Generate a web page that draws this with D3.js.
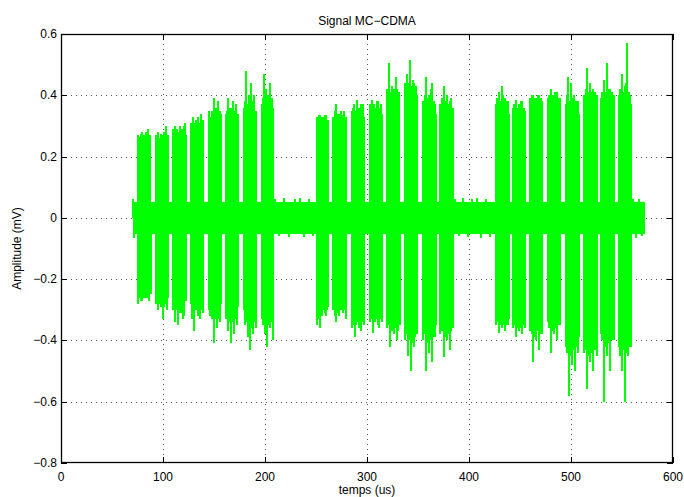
<!DOCTYPE html>
<html><head><meta charset="utf-8">
<script src="https://cdn.jsdelivr.net/npm/d3@7"></script>
<style>
body{margin:0;background:#fff;}
text{font-family:"Liberation Sans",Arial,Helvetica,sans-serif;}
</style></head>
<body><svg id="c" width="684" height="497"></svg>
<script>
// ---- data ----
const xTicks = [0,100,200,300,400,500,600];
const yTicks = [-0.8,-0.6,-0.4,-0.2,0,0.2,0.4,0.6];
// quiet baseline band of the signal (time span, upper/lower level)
const baseSpan = [70.6, 572.5];
const baseLevel = [0.053, -0.053];
// small peaks of the quiet parts [t, amplitude]
const basePeaks = [[71,0.06],[72,-0.065],[210,0.062],[214,-0.06],[219,0.065],[224,-0.063],[229,0.06],[234,0.066],[238,-0.064],[243,0.06],[247,-0.06],
  [386,0.062],[390,-0.06],[394,0.064],[399,-0.063],[403,0.06],[408,0.065],[412,-0.066],[417,0.06],[421,-0.062],
  [561,0.062],[564,-0.065],[567,0.06],[570,-0.06]];
// burst (symbol) time spans in us
const burstStart = [74.5,92.2,108.8,126.5,144.1,160.8,178.4,196.1,
                    250.0,266.7,284.3,302.0,319.6,336.3,353.9,371.6,
                    425.5,442.2,458.8,476.5,494.1,511.8,528.4,546.1];
const burstEnd   = [88.2,105.9,123.5,140.2,157.8,174.5,192.2,208.8,
                    262.7,280.4,298.0,315.7,332.4,350.0,368.6,384.3,
                    440.2,455.9,472.5,490.2,508.8,525.5,543.1,559.8];
// dense core level of each burst
const burstTop   = [0.25,0.25,0.27,0.29,0.31,0.31,0.31,0.31,
                    0.31,0.31,0.33,0.34,0.38,0.40,0.34,0.34,
                    0.34,0.33,0.37,0.37,0.34,0.38,0.37,0.37];
const burstBot   = [-0.24,-0.26,-0.27,-0.28,-0.28,-0.29,-0.30,-0.28,
                    -0.28,-0.29,-0.32,-0.31,-0.33,-0.35,-0.35,-0.33,
                    -0.33,-0.34,-0.34,-0.31,-0.39,-0.40,-0.34,-0.375];
// individual peaks sticking out of the bursts [t (us), amplitude (mV)]
const peaksUp = [
 [75,0.27],[76,0.265],[77.5,0.26],[78.5,0.275],[79.5,0.28],[81.5,0.27],[82.5,0.265],[83.5,0.28],[85.5,0.29],[86.5,0.27],[87.5,0.27],
 [93,0.27],[94,0.265],[95,0.28],[97,0.26],[98,0.275],[99,0.27],[101,0.28],[102,0.27],[103,0.3],[105,0.27],
 [110,0.29],[111,0.28],[112,0.3],[113.5,0.29],[115,0.28],[117,0.3],[118,0.29],[119,0.29],[120.5,0.3],[122,0.31],
 [127,0.31],[128,0.3],[129,0.33],[130.5,0.31],[132,0.32],[134,0.33],[135.5,0.31],[137,0.34],[139,0.32],
 [145,0.35],[146,0.33],[147,0.33],[148.5,0.35],[150,0.39],[152,0.36],[153,0.34],[154,0.38],[155.5,0.35],[157,0.34],
 [162,0.34],[163,0.35],[164,0.39],[165.5,0.36],[167,0.36],[169,0.38],[170.5,0.35],[172,0.37],[174,0.34],
 [179,0.36],[180,0.38],[181,0.48],[182.5,0.37],[184,0.4],[186,0.44],[187,0.37],[188,0.38],[189.5,0.4],[191,0.35],
 [197,0.37],[198,0.39],[199,0.47],[200,0.38],[201,0.42],[203,0.4],[204,0.37],[205,0.44],[206.5,0.39],[208,0.36],
 [251,0.33],[252.5,0.335],[254,0.336],[255.5,0.33],[257,0.33],[258.5,0.336],[260,0.336],[262,0.32],
 [267,0.33],[268.5,0.35],[270,0.37],[271.5,0.34],[273,0.34],[274.5,0.35],[276,0.335],[277.5,0.35],[279,0.33],
 [285,0.35],[286,0.36],[287,0.37],[288.5,0.35],[290,0.385],[291.5,0.36],[293,0.36],[294.5,0.37],[296,0.37],
 [303,0.37],[304,0.36],[305,0.385],[306.5,0.37],[308,0.36],[309.5,0.38],[311,0.38],[312.5,0.36],[314,0.37],
 [320,0.42],[321,0.41],[322,0.505],[323.5,0.41],[325,0.43],[326.5,0.42],[328,0.46],[329.5,0.42],[331,0.41],
 [337,0.44],[338,0.43],[339,0.47],[340.5,0.44],[342,0.515],[343.5,0.43],[345,0.45],[346.5,0.44],[348,0.43],
 [355,0.38],[356.5,0.4],[358,0.46],[359.5,0.39],[361,0.4],[362.5,0.42],[364,0.44],[365.5,0.38],[367,0.37],
 [372,0.37],[373.5,0.39],[375,0.43],[376.5,0.38],[378,0.4],[379.5,0.37],[381,0.38],[382.5,0.39],[384,0.36],
 [426,0.37],[427.5,0.39],[429,0.41],[430.5,0.38],[432,0.43],[433.5,0.4],[435,0.39],[436.5,0.38],[438,0.38],
 [443,0.36],[444.5,0.37],[446,0.385],[447.5,0.36],[449,0.37],[450.5,0.38],[452,0.38],[453.5,0.36],[455,0.35],
 [460,0.39],[461.5,0.4],[463,0.4],[464.5,0.39],[466,0.39],[467.5,0.4],[469,0.4],[470.5,0.39],[472,0.38],
 [477,0.39],[478.5,0.4],[480,0.42],[481.5,0.4],[483,0.4],[484.5,0.41],[486,0.41],[487.5,0.39],[489,0.39],
 [495,0.37],[496,0.4],[497,0.46],[498.5,0.38],[500,0.44],[501.5,0.39],[503,0.4],[505,0.38],[507,0.38],
 [513,0.4],[514.5,0.42],[516,0.49],[517.5,0.41],[519,0.44],[520.5,0.41],[522,0.42],[523.5,0.41],[525,0.4],
 [529,0.39],[530.5,0.41],[532,0.45],[533.5,0.41],[535,0.505],[536.5,0.42],[538,0.42],[540,0.41],[542,0.4],
 [547,0.4],[548.5,0.42],[550,0.47],[551.5,0.41],[553,0.43],[554,0.44],[555,0.57],[556.5,0.41],[558,0.4]
];
const peaksDn = [
 [75,-0.28],[76,-0.26],[77.5,-0.25],[78.5,-0.27],[79.5,-0.27],[81,-0.26],[82,-0.24],[83,-0.26],[84,-0.26],[85,-0.25],[86,-0.27],[88,-0.25],
 [93,-0.28],[94,-0.27],[95,-0.3],[96,-0.28],[97,-0.27],[98.5,-0.29],[100,-0.33],[101,-0.29],[102,-0.28],[103,-0.27],[104,-0.3],
 [110,-0.3],[111,-0.29],[112,-0.34],[113.5,-0.3],[115,-0.35],[116.5,-0.31],[118,-0.31],[119.5,-0.33],[121,-0.32],
 [128,-0.33],[129,-0.31],[130,-0.37],[131.5,-0.3],[133,-0.3],[134.5,-0.32],[136,-0.33],[137.5,-0.3],[139,-0.31],
 [145,-0.3],[146.5,-0.32],[148,-0.33],[149,-0.31],[150,-0.41],[151.5,-0.33],[153,-0.36],[154.5,-0.33],[156,-0.34],
 [162,-0.33],[163,-0.32],[164,-0.37],[165.5,-0.34],[167,-0.41],[168.5,-0.34],[170,-0.38],[171.5,-0.33],[173,-0.35],
 [180,-0.35],[181.5,-0.34],[183,-0.39],[184,-0.35],[185,-0.43],[186.5,-0.36],[188,-0.38],[189.5,-0.34],[191,-0.36],
 [197,-0.33],[198.5,-0.35],[200,-0.38],[201,-0.34],[202,-0.42],[203.5,-0.35],[205,-0.36],[206.5,-0.34],[208,-0.4],
 [251,-0.35],[252.5,-0.33],[254,-0.36],[255.5,-0.32],[257,-0.3],[258.5,-0.31],[260,-0.32],[261,-0.3],[262,-0.29],
 [267,-0.3],[268.5,-0.32],[270,-0.34],[271.5,-0.31],[273,-0.32],[274.5,-0.3],[276,-0.31],[277.5,-0.3],[279,-0.33],
 [285,-0.36],[286.5,-0.35],[288,-0.39],[289.5,-0.35],[291,-0.34],[292.5,-0.36],[294,-0.37],[295.5,-0.34],[297,-0.35],
 [303,-0.34],[304.5,-0.33],[306,-0.375],[307.5,-0.34],[309,-0.33],[310.5,-0.35],[312,-0.36],[313.5,-0.33],[315,-0.34],
 [320,-0.36],[321.5,-0.35],[323,-0.42],[324.5,-0.37],[326,-0.38],[327.5,-0.36],[329,-0.4],[330.5,-0.37],[332,-0.35],
 [337,-0.4],[338.5,-0.38],[340,-0.45],[341.5,-0.4],[343,-0.5],[344.5,-0.41],[346,-0.42],[347.5,-0.39],[349,-0.38],
 [355,-0.4],[356.5,-0.38],[358,-0.5],[359.5,-0.41],[361,-0.44],[362.5,-0.4],[364,-0.47],[365.5,-0.39],[367,-0.39],
 [372,-0.38],[373.5,-0.37],[375,-0.455],[376.5,-0.39],[378,-0.4],[379.5,-0.38],[381,-0.43],[382.5,-0.37],[384,-0.36],
 [426,-0.35],[427.5,-0.34],[429,-0.375],[430.5,-0.35],[432,-0.36],[433.5,-0.35],[435,-0.37],[436.5,-0.35],[438,-0.35],
 [443,-0.36],[444.5,-0.35],[446,-0.39],[447.5,-0.36],[449,-0.37],[450.5,-0.36],[452,-0.38],[453.5,-0.35],[455,-0.36],
 [460,-0.37],[461.5,-0.38],[463,-0.47],[464.5,-0.39],[466,-0.4],[467.5,-0.37],[469,-0.43],[470.5,-0.38],[472,-0.38],
 [477,-0.34],[478.5,-0.36],[480,-0.44],[481.5,-0.37],[483,-0.38],[484.5,-0.36],[486,-0.4],[487.5,-0.35],[489,-0.35],
 [495,-0.42],[496.5,-0.44],[498,-0.58],[499.5,-0.45],[501,-0.48],[502.5,-0.43],[504,-0.5],[505.5,-0.42],[507,-0.44],
 [513,-0.44],[514.5,-0.43],[516,-0.56],[517.5,-0.45],[519,-0.47],[520.5,-0.44],[522,-0.5],[523.5,-0.43],[525,-0.45],
 [529,-0.38],[530.5,-0.4],[532,-0.6],[533.5,-0.42],[535,-0.45],[536.5,-0.41],[538,-0.5],[540,-0.4],[542,-0.4],
 [547,-0.42],[548.5,-0.45],[550,-0.5],[551.5,-0.43],[553,-0.6],[554.5,-0.44],[556,-0.45],[557.5,-0.42],[559,-0.42]
];

// ---- layout ----
const svg = d3.select("#c");
const L=61, R=673, T=34, B=463;
const x = d3.scaleLinear().domain([0,600]).range([L,R]);
const y = d3.scaleLinear().domain([-0.8,0.6]).range([B,T]);
const green = "#00ff00";
const px = t => Math.round(x(t));

// grid
const grid = svg.append("g").attr("stroke","#333").attr("stroke-width",1)
  .attr("stroke-dasharray","1,4").attr("opacity",0.85);
xTicks.slice(1,-1).forEach(t=>grid.append("line")
  .attr("x1",px(t)+0.5).attr("x2",px(t)+0.5).attr("y1",T).attr("y2",B));
yTicks.slice(1,-1).forEach(t=>grid.append("line")
  .attr("y1",Math.round(y(t))+0.5).attr("y2",Math.round(y(t))+0.5).attr("x1",L).attr("x2",R));

// signal
const sig = svg.append("g").attr("shape-rendering","crispEdges");
sig.append("rect").attr("x",px(baseSpan[0])).attr("width",px(baseSpan[1])-px(baseSpan[0]))
  .attr("y",y(baseLevel[0])).attr("height",y(baseLevel[1])-y(baseLevel[0])).attr("fill",green);
burstStart.forEach((s,i)=>{
  sig.append("rect").attr("x",px(s)).attr("width",px(burstEnd[i])-px(s))
    .attr("y",y(burstTop[i])).attr("height",y(burstBot[i])-y(burstTop[i])).attr("fill",green);
});
const spikes = basePeaks.concat(peaksUp, peaksDn);
sig.selectAll("rect.pk").data(spikes).join("rect").attr("class","pk")
  .attr("x",d=>px(d[0])-1).attr("width",2)
  .attr("y",d=>Math.min(y(0),y(d[1]))).attr("height",d=>Math.abs(y(d[1])-y(0)))
  .attr("fill",green);

// axes box and inward ticks
const ax = svg.append("g").attr("stroke","#000").attr("stroke-width",1).attr("fill","none");
ax.append("rect").attr("x",L+0.5).attr("y",T+0.5).attr("width",R-L-1).attr("height",B-T-1).attr("stroke-width",1.3);
xTicks.forEach(t=>{
  const p=px(t)+0.5;
  ax.append("line").attr("x1",p).attr("x2",p).attr("y1",B).attr("y2",B-6);
  ax.append("line").attr("x1",p).attr("x2",p).attr("y1",T).attr("y2",T+6);
});
yTicks.forEach(t=>{
  const p=Math.round(y(t))+0.5;
  ax.append("line").attr("y1",p).attr("y2",p).attr("x1",L).attr("x2",L+6);
  ax.append("line").attr("y1",p).attr("y2",p).attr("x1",R).attr("x2",R-6);
});

// labels
const fmt = v => (v<0?"\u2212":"") + Math.abs(v).toString();
svg.append("g").selectAll("text").data(xTicks).join("text")
  .attr("x",d=>x(d)).attr("y",B+18).attr("text-anchor","middle").attr("font-size",12).text(fmt);
svg.append("g").selectAll("text").data(yTicks).join("text")
  .attr("x",L-4).attr("y",d=>y(d)+4).attr("text-anchor","end").attr("font-size",12).text(fmt);
svg.append("text").attr("x",(L+R)/2).attr("y",25).attr("text-anchor","middle").attr("font-size",12).text("Signal MC\u2212CDMA");
svg.append("text").attr("x",(L+R)/2).attr("y",494).attr("text-anchor","middle").attr("font-size",12).text("temps (us)");
svg.append("text").attr("transform",`translate(21,${(T+B)/2}) rotate(-90)`).attr("text-anchor","middle").attr("font-size",12).text("Amplitude (mV)");
</script></body></html>
